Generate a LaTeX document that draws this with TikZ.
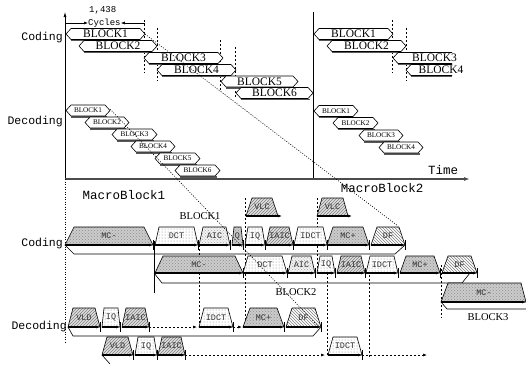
\documentclass[tikz,border=0pt]{standalone}
\usepackage{fontspec}
\setmainfont{Liberation Serif}
\setmonofont{Liberation Mono}
\usetikzlibrary{patterns,arrows.meta}
\newcommand\hexb[6]{% x1 x2 yc hh labelstyle label
  \draw[black!65, line width=1.2pt] ({#1+5},{#3+#4+0.9}) -- ({#2-3},{#3+#4+0.9});
  \path[draw, fill=white, line width=0.6pt] (#1,#3) -- ({#1+5},{#3-#4}) -- ({#2-5},{#3-#4}) -- (#2,#3) -- ({#2-5},{#3+#4}) -- ({#1+5},{#3+#4}) -- cycle;
  \node[#5] at ({(#1+#2)/2},#3) {#6};
}
\newcommand\openb[5]{% x1 x2 yc hh label
  \draw[black!65, line width=1.2pt] ({#1+5},{#3+#4+0.9}) -- (#2,{#3+#4+0.9});
  \path[draw, fill=white, line width=0.6pt] (#2,{#3-#4}) -- ({#1+5},{#3-#4}) -- (#1,#3) -- ({#1+5},{#3+#4}) -- (#2,{#3+#4});
  \node[blab] at ({(#1+#2)/2+12},#3) {#5};
}
\newcommand\trapz[7]{% x1 x2 ybase h inset style label
  \path[draw=black, line width=0.6pt, #6] (#1,#3) -- ({#1+#5},{#3-#4}) -- ({#2-#5},{#3-#4}) -- (#2,#3) -- cycle;
  \node[tlab] at ({(#1+#2)/2},{#3-#4/2}) {#7};
}
\newcommand\blk[7]{% trapezoid + base arrow + tick
  \trapz{#1}{#2}{#3}{#4}{#5}{#6}{#7}
  \draw[basearr] (#1,#3) -- (#2,#3);
  \draw[line width=0.6pt] (#2,{#3-5}) -- (#2,{#3+5});
}
\begin{document}
\begin{tikzpicture}[x=1pt,y=-1pt,
  blab/.style={font=\fontsize{11.5}{12}\selectfont, inner sep=0pt},
  sblab/.style={font=\fontsize{7.2}{8}\selectfont, inner sep=0pt},
  tlab/.style={font=\ttfamily\fontsize{8.5}{9}\selectfont, text=black!80, inner sep=0pt},
  mono/.style={font=\ttfamily\fontsize{11.5}{12}\selectfont, inner sep=0pt},
  bigmono/.style={font=\ttfamily\fontsize{12.5}{13}\selectfont, inner sep=0pt},
  smono/.style={font=\ttfamily\fontsize{9}{9}\selectfont, inner sep=0pt},
  lblk/.style={font=\fontsize{10.5}{11}\selectfont, inner sep=0pt},
  dsh/.style={dash pattern=on 2pt off 2pt, line width=0.6pt},
  dotl/.style={dash pattern=on 1pt off 1.5pt, line width=0.6pt},
  basearr/.style={line width=1.1pt, -{Latex[length=4pt,width=3pt]}},
  dsharr/.style={dsh, -{Latex[length=4pt,width=3pt]}},
  mcs/.style={preaction={fill=gray!40}, pattern=crosshatch dots, pattern color=black!45},
  dcts/.style={preaction={fill=white}, pattern=dots, pattern color=black!50},
  aics/.style={preaction={fill=gray!10}, pattern=crosshatch dots, pattern color=black!35},
  iaics/.style={preaction={fill=gray!25}, pattern=north east lines, pattern color=black!50},
  dfs/.style={preaction={fill=white}, pattern=north west lines, pattern color=black!50},
]
\useasboundingbox (0,0) rectangle (526,364);

% ---------- axes ----------
\coordinate (o) at (65,179);
\coordinate (ytop) at (65,12);
\coordinate (xend) at (470,179);
\coordinate (m2b) at (313,179);
\coordinate (m2t) at (313,12);
\coordinate (obot) at (65,342);
\draw[line width=0.7pt, -{Latex[length=5pt,width=3pt]}] (o) -- (ytop);
\draw[line width=0.7pt] (m2b) -- (m2t);
\draw[black!70, line width=1.4pt, -{Latex[length=6pt,width=4pt]}] (o) -- (xend);
\draw[dotl] (o) -- (obot);

\node[mono, anchor=east] (codT) at (63,38) {Coding};
\node[mono, anchor=east] (decT) at (63,122) {Decoding};
\node[bigmono] (timeT) at (443,170) {Time};

% cycles dimension
\node[smono, anchor=west] (cyc2) at (88,23) {Cycles};
\node[smono, anchor=west] (cyc1) at (89,10) {1,438};
\coordinate (dl) at (65,23);
\coordinate (dr) at (145,23);
\draw[line width=0.6pt, -{Latex[length=4pt,width=3pt]}] (dl) -- (cyc2.west);
\draw[line width=0.6pt, -{Latex[length=4pt,width=3pt]}] (dr) -- (cyc2.east);

% dashed verticals top
\foreach \x/\a/\b in {144/20/73, 157/28/81, 220/40/90, 235/47/98, 392/20/73, 406/28/81}
  \draw[dsh] (\x,\a) -- (\x,\b);

% coding blocks MB1
\hexb{66}{145}{34}{5.5}{blab}{BLOCK1}
\hexb{79}{157}{46}{5.5}{blab}{BLOCK2}
\hexb{144}{223}{58}{5.5}{blab}{BLOCK3}
\hexb{157}{236}{70}{5.5}{blab}{BLOCK4}
\hexb{221}{298}{81.5}{5.5}{blab}{BLOCK5}
\hexb{236}{313}{93}{5.5}{blab}{BLOCK6}
% coding blocks MB2
\hexb{314}{393}{34}{5.5}{blab}{BLOCK1}
\hexb{327}{406}{46}{5.5}{blab}{BLOCK2}
\openb{393}{452}{58}{5.5}{BLOCK3}
\openb{406}{452}{70}{5.5}{BLOCK4}
% decoding blocks MB1
\hexb{66}{110}{110.5}{5.5}{sblab}{BLOCK1}
\hexb{85}{129}{122.5}{5.5}{sblab}{BLOCK2}
\hexb{112}{157}{134.5}{5.5}{sblab}{BLOCK3}
\hexb{131}{175}{146.5}{5.5}{sblab}{BLOCK4}
\hexb{155}{200}{158.5}{5.5}{sblab}{BLOCK5}
\hexb{175}{220}{170.5}{5.5}{sblab}{BLOCK6}
% decoding blocks MB2
\hexb{314}{358}{111}{5.5}{sblab}{BLOCK1}
\hexb{333}{378}{123}{5.5}{sblab}{BLOCK2}
\hexb{359}{403}{135.5}{5.5}{sblab}{BLOCK3}
\hexb{379}{423}{147.5}{5.5}{sblab}{BLOCK4}

% ---------- detailed part ----------
\node[bigmono] (mb1) at (124,195) {MacroBlock1};
\node[bigmono] (mb2) at (382,188) {MacroBlock2};
\node[lblk] (bl1) at (200,216) {BLOCK1};
\node[lblk] (bl2) at (296,292) {BLOCK2};
\node[lblk] (bl3) at (488,317) {BLOCK3};
\node[mono, anchor=east] (codT2) at (63,244) {Coding};
\node[mono, anchor=east] (decT2) at (67,327) {Decoding};

% bands
\draw[line width=0.6pt] (65,245) -- (74,254) -- (395,254) -- (405,245);
\draw[line width=0.6pt] (154,273) -- (162,283) -- (462,283) -- (470,273);
\draw[line width=0.6pt] (441,302) -- (447,309) -- (526,309);
\draw[line width=0.6pt] (68,327) -- (73,336) -- (313,336) -- (321,327);
\draw[line width=0.6pt] (102,355) -- (110,364);

% dashed verticals lower
\draw[dsh] (199,245) -- (199,327);
\draw[dsh] (245,198) -- (245,327);
\draw[dsh] (317,198) -- (317,273);
\draw[dsh] (327,273) -- (327,355);
\draw[dsh] (369,275) -- (369,357);
\draw[dsh] (441,265) -- (441,318);
\draw[line width=0.7pt] (154,241) -- (154,293);

% VLC
\trapz{246}{278}{216}{18}{6}{iaics}{VLC}
\draw[basearr] (246,216) -- (282,216);
\trapz{317}{348}{216}{18}{5}{iaics}{VLC}
\draw[basearr] (317,216) -- (352,216);

% coding row 1
\blk{65}{153}{245}{18}{9}{mcs}{MC-}
\blk{155}{198}{245}{18}{4}{dcts}{DCT}
\blk{199}{230}{245}{18}{4}{aics}{AIC}
\blk{232}{243}{245}{18}{2}{mcs}{Q}
\blk{245}{265}{245}{18}{3}{dcts}{IQ}
\blk{266}{293}{245}{18}{4}{iaics}{IAIC}
\blk{294}{327}{245}{18}{4}{dcts}{IDCT}
\blk{327}{369}{245}{18}{6}{mcs}{MC+}
\blk{371}{405}{245}{18}{6}{dfs}{DF}
% coding row 2
\blk{155}{243}{273}{17}{8}{mcs}{MC-}
\blk{243}{287}{273}{17}{5}{dcts}{DCT}
\blk{288}{315}{273}{17}{4}{aics}{AIC}
\blk{317}{335}{273}{17}{3}{dcts}{IQ}
\blk{337}{365}{273}{17}{4}{iaics}{IAIC}
\blk{366}{398}{273}{17}{4}{dcts}{IDCT}
\blk{400}{440}{273}{17}{6}{mcs}{MC+}
\blk{442}{477}{273}{17}{6}{dfs}{DF}
% coding row 3
\path[draw=black, line width=0.6pt, mcs] (441,302) -- (448,283) -- (521,283) -- (526,302) -- cycle;
\node[tlab] (mc3) at (484,292.5) {MC-};
\draw[basearr] (441,302) -- (526,302);

% decoding row 1
\blk{68}{100}{327}{19}{5}{iaics}{VLD}
\blk{102}{120}{327}{19}{2}{dcts}{IQ}
\blk{122}{149}{327}{19}{4}{iaics}{IAIC}
\draw[dsharr] (149,327) -- (197,327);
\blk{199}{233}{327}{19}{5}{dcts}{IDCT}
\draw[dsharr] (233,327) -- (242,327);
\blk{243}{284}{327}{19}{7}{mcs}{MC+}
\blk{286}{321}{327}{19}{6}{dfs}{DF}
% decoding row 2
\blk{102}{133}{355}{18}{5}{iaics}{VLD}
\blk{135}{157}{355}{18}{3}{dcts}{IQ}
\blk{158}{185}{355}{18}{4}{iaics}{IAIC}
\draw[dsharr] (185,355) -- (325,355);
\blk{328}{362}{355}{18}{5}{dcts}{IDCT}
\draw[dsharr] (362,355) -- (427,355);

% long dotted diagonals
\coordinate (a1) at (145,34);
\coordinate (a2) at (398,226);
\coordinate (b1) at (110,109);
\coordinate (b2) at (318,326);
\draw[dotl] (a1) -- (a2);
\draw[dotl] (b1) -- (b2);
\end{tikzpicture}
\end{document}
